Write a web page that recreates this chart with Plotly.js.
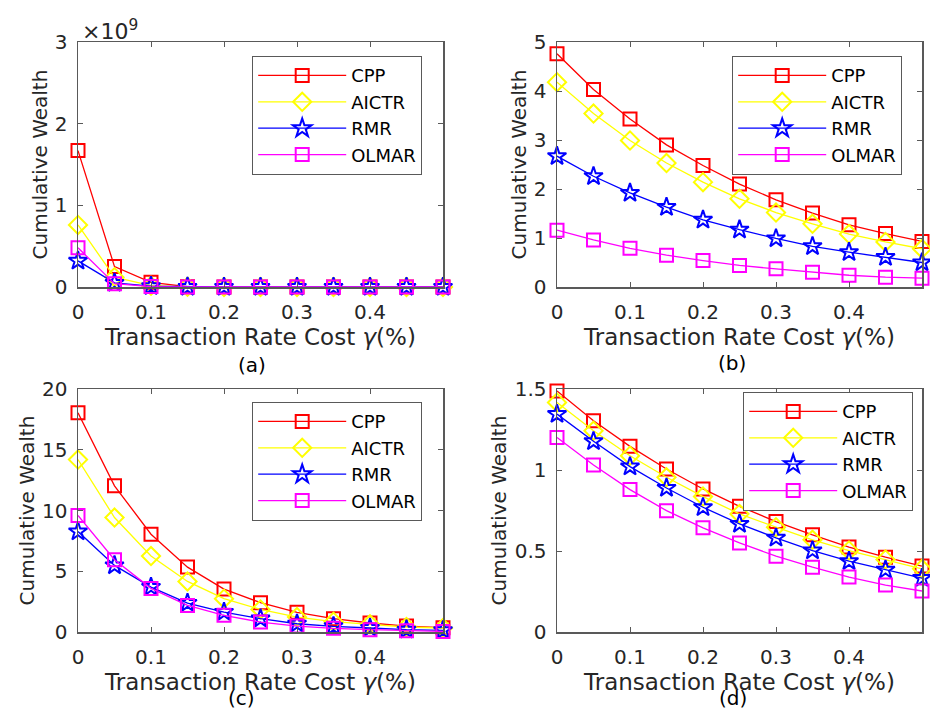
<!DOCTYPE html>
<html>
<head>
<meta charset="utf-8">
<script src="https://cdn.plot.ly/plotly-3.0.1.min.js"></script>
<style>html,body{margin:0;padding:0;background:#fff;}#chart{width:930px;height:709px;}</style>
</head>
<body>
<div id="chart"></div>
<script>
// x values: transaction rate cost gamma (%)
const gamma = [0, 0.05, 0.1, 0.15, 0.2, 0.25, 0.3, 0.35, 0.4, 0.45, 0.5];
const seriesNames = ["CPP", "AICTR", "RMR", "OLMAR"];

// (a) values in units of 10^9
const a_CPP   = [1.67, 0.25, 0.057, 0.004, 0.001, 0, 0, 0, 0, 0, 0];
const a_AICTR = [0.76, 0.12, 0.016, 0.002, 0, 0, 0, 0, 0, 0, 0];
const a_RMR   = [0.32, 0.05, 0.010, 0.001, 0, 0, 0, 0, 0, 0, 0];
const a_OLMAR = [0.48, 0.04, 0.005, 0.001, 0, 0, 0, 0, 0, 0, 0];

// (b)
const b_CPP   = [4.76, 4.03, 3.43, 2.90, 2.48, 2.10, 1.78, 1.51, 1.27, 1.09, 0.93];
const b_AICTR = [4.18, 3.54, 2.99, 2.53, 2.14, 1.80, 1.52, 1.29, 1.08, 0.92, 0.78];
const b_RMR   = [2.67, 2.26, 1.92, 1.63, 1.37, 1.17, 0.99, 0.83, 0.71, 0.61, 0.50];
const b_OLMAR = [1.16, 0.96, 0.79, 0.65, 0.54, 0.44, 0.37, 0.30, 0.24, 0.20, 0.18];

// (c)
const c_CPP   = [18.05, 12.03, 8.05, 5.34, 3.53, 2.41, 1.62, 1.10, 0.74, 0.49, 0.36];
const c_AICTR = [14.19, 9.42, 6.25, 4.16, 2.74, 1.86, 1.23, 0.85, 0.63, 0.41, 0.33];
const c_RMR   = [8.27, 5.48, 3.70, 2.38, 1.64, 1.10, 0.68, 0.47, 0.33, 0.19, 0.14];
const c_OLMAR = [9.59, 5.95, 3.59, 2.19, 1.37, 0.82, 0.49, 0.30, 0.19, 0.11, 0.05];

// (d)
const d_CPP   = [1.488, 1.304, 1.146, 1.006, 0.883, 0.776, 0.682, 0.600, 0.524, 0.462, 0.407];
const d_AICTR = [1.417, 1.242, 1.088, 0.955, 0.836, 0.729, 0.647, 0.569, 0.503, 0.448, 0.390];
const d_RMR   = [1.345, 1.177, 1.021, 0.889, 0.770, 0.667, 0.581, 0.503, 0.437, 0.384, 0.333];
const d_OLMAR = [1.201, 1.031, 0.879, 0.749, 0.643, 0.550, 0.468, 0.400, 0.339, 0.290, 0.253];

const xTicks = [0, 0.1, 0.2, 0.3, 0.4];
const panelLabels = ["(a)", "(b)", "(c)", "(d)"];
const xTitle = "Transaction Rate Cost <i>γ</i>(%)";
const yTitle = "Cumulative Wealth";
const exponentLabel = "×10<sup>9</sup>";

const colors = ["#ff0000", "#ffff00", "#0000ff", "#ff00ff"];
const symbols = ["square-open", "diamond-open", "star-open", "square-open"];
const sizes = [13, 14, 14, 13];

const panels = [
  [a_CPP, a_AICTR, a_RMR, a_OLMAR],
  [b_CPP, b_AICTR, b_RMR, b_OLMAR],
  [c_CPP, c_AICTR, c_RMR, c_OLMAR],
  [d_CPP, d_AICTR, d_RMR, d_OLMAR]
];

const FONT = "DejaVu Sans, Liberation Sans, Arial, sans-serif";
const AX = "#595959";
const TXT = "#262626";

const traces = [];
panels.forEach((p, pi) => {
  p.forEach((vals, si) => {
    traces.push({
      x: gamma, y: vals, type: "scatter", mode: "lines+markers",
      name: seriesNames[si],
      xaxis: pi === 0 ? "x" : "x" + (pi + 1),
      yaxis: pi === 0 ? "y" : "y" + (pi + 1),
      legend: pi === 0 ? "legend" : "legend" + (pi + 1),
      line: {color: colors[si], width: 1.3},
      marker: {symbol: symbols[si], size: sizes[si], color: colors[si], line: {width: 2, color: colors[si]}},
      cliponaxis: false
    });
  });
});

const xDomL = [78 / 930, 443 / 930];
const xDomR = [557 / 930, 922 / 930];
const yDomT = [(709 - 287) / 709, (709 - 42) / 709];
const yDomB = [(709 - 632) / 709, (709 - 389) / 709];

function xa(dom, anchor) {
  return {
    domain: dom, anchor: anchor, range: [0, 0.5], tickvals: xTicks,
    showline: true, mirror: "ticks", linecolor: AX, linewidth: 1.5,
    ticks: "inside", ticklen: 5, tickcolor: AX, tickwidth: 1,
    showgrid: false, zeroline: false, ticklabelstandoff: 6,
    tickfont: {family: FONT, size: 20, color: TXT},
    title: {text: xTitle, font: {family: FONT, size: 23, color: TXT}, standoff: 6}
  };
}
function ya(dom, anchor, range, dtick) {
  return {
    domain: dom, anchor: anchor, range: range, dtick: dtick, tick0: 0,
    showline: true, mirror: "ticks", linecolor: AX, linewidth: 1.5,
    ticks: "inside", ticklen: 5, tickcolor: AX, tickwidth: 1,
    showgrid: false, zeroline: false, ticklabelstandoff: 5,
    tickfont: {family: FONT, size: 20, color: TXT},
    title: {text: yTitle, font: {family: FONT, size: 20, color: TXT}, standoff: 2}
  };
}
function leg(x, y) {
  return {
    x: x, y: y, xanchor: "left", yanchor: "top", xref: "paper", yref: "paper",
    bgcolor: "#ffffff", bordercolor: "#595959", borderwidth: 1.2,
    font: {family: FONT, size: 18, color: "#000"}, tracegroupgap: 0,
    itemwidth: 88
  };
}

const layout = {
  width: 930, height: 709,
  margin: {l: 0, r: 0, t: 0, b: 0},
  paper_bgcolor: "#ffffff", plot_bgcolor: "#ffffff",
  showlegend: true,
  xaxis: xa(xDomL, "y"), yaxis: ya(yDomT, "x", [0, 3], 1),
  xaxis2: xa(xDomR, "y2"), yaxis2: ya(yDomT, "x2", [0, 5], 1),
  xaxis3: xa(xDomL, "y3"), yaxis3: ya(yDomB, "x3", [0, 20], 5),
  xaxis4: xa(xDomR, "y4"), yaxis4: ya(yDomB, "x4", [0, 1.5], 0.5),
  legend: leg(252 / 930, 1 - 56 / 709),
  legend2: leg(732 / 930, 1 - 56 / 709),
  legend3: leg(252 / 930, 1 - 402 / 709),
  legend4: leg(743 / 930, 1 - 392 / 709),
  annotations: [
    {text: exponentLabel, x: 80 / 930, y: 1 - 30 / 709, xref: "paper", yref: "paper", xanchor: "left", yanchor: "middle", showarrow: false, font: {family: FONT, size: 22, color: TXT}},
    {text: panelLabels[0], x: 252 / 930, y: 1 - 365 / 709, xref: "paper", yref: "paper", xanchor: "center", yanchor: "middle", showarrow: false, font: {family: FONT, size: 20, color: "#000"}},
    {text: panelLabels[1], x: 732 / 930, y: 1 - 363 / 709, xref: "paper", yref: "paper", xanchor: "center", yanchor: "middle", showarrow: false, font: {family: FONT, size: 20, color: "#000"}},
    {text: panelLabels[2], x: 242 / 930, y: 1 - 698 / 709, xref: "paper", yref: "paper", xanchor: "center", yanchor: "middle", showarrow: false, font: {family: FONT, size: 20, color: "#000"}},
    {text: panelLabels[3], x: 733 / 930, y: 1 - 698 / 709, xref: "paper", yref: "paper", xanchor: "center", yanchor: "middle", showarrow: false, font: {family: FONT, size: 20, color: "#000"}}
  ]
};

Plotly.newPlot("chart", traces, layout, {displayModeBar: false, staticPlot: true});
</script>
</body>
</html>
